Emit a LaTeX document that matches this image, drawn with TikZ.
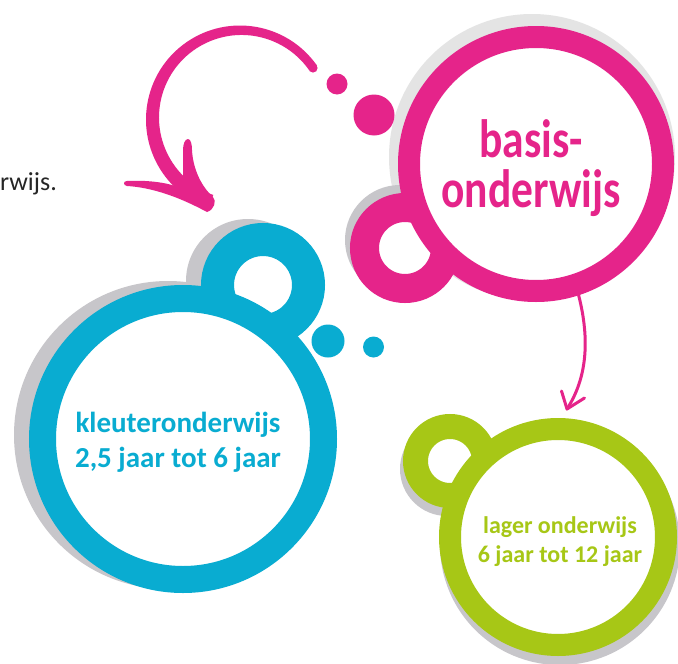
\documentclass[tikz,border=0pt]{standalone}
\usepackage{fontspec}
\setmainfont{Carlito}
\definecolor{pinkc}{HTML}{E5248A}
\definecolor{bluec}{HTML}{09ACD1}
\definecolor{greenc}{HTML}{A7C716}
\definecolor{shadowc}{HTML}{C7C6CA}
\definecolor{shadowl}{HTML}{E4E4E4}
\begin{document}
\begin{tikzpicture}[x=1pt,y=-1pt,
  ring/.style={circle, inner sep=0pt, fill=white},
  dot/.style={circle, inner sep=0pt},
  lbl/.style={inner sep=0pt, anchor=base}]
\useasboundingbox (0,0) rectangle (678,664);
\fill[white] (0,0) rectangle (678,664);

% ---- pink bubble ----
\fill[shadowl] (532,157) circle[radius=143];
\fill[shadowc] (400,240) circle[radius=55];
\node[ring, draw=pinkc, line width=29pt, minimum size=81pt] (basissmall) at (405,248) {};
\node[ring, draw=pinkc, line width=22pt, minimum size=254pt] (basis) at (536,164) {};
\node[dot, fill=pinkc, minimum size=21pt] (pd1) at (337,84) {};
\node[dot, fill=pinkc, minimum size=41pt] (pd2) at (374,115) {};

% ---- blue bubble ----
\fill[shadowc] (168,435) circle[radius=154];
\fill[shadowc] (248,281) circle[radius=62];
\node[ring, draw=bluec, line width=33pt, minimum size=91pt] (kleutersmall) at (263,285) {};
\node[ring, draw=bluec, line width=27pt, minimum size=281pt] (kleuter) at (183,439) {};
\node[dot, fill=bluec, minimum size=33pt] (bd1) at (328,341) {};
\node[dot, fill=bluec, minimum size=21pt] (bd2) at (373.5,347) {};

% ---- green bubble ----
\fill[shadowc] (560,545) circle[radius=120];
\fill[shadowc] (447,469) circle[radius=47];
\node[ring, draw=greenc, line width=25pt, minimum size=69pt] (lagersmall) at (450,461) {};
\node[ring, draw=greenc, line width=22pt, minimum size=216pt] (lager) at (558,537) {};

% ---- big curved arrow ----
\coordinate (arcstart) at (313,68);
\fill[pinkc] (317,65.6) arc[start angle=-35, end angle=-250, radius=94]
  -- (213.3,195) arc[start angle=-250, end angle=-35, radius=82.5] -- cycle;
\fill[pinkc] (arcstart) circle[radius=4.6];
\fill[pinkc] (183,177) -- (183,150) .. controls (183,144) and (185,139) .. (188,139)
  .. controls (191,139) and (192,145) .. (192,150)
  .. controls (193,170) and (202,187) .. (213,197)
  .. controls (217,201) and (214,210) .. (207,212)
  .. controls (190,203) and (160,188) .. (127,186)
  .. controls (123,185.5) and (123,181) .. (127,181)
  .. controls (145,180) and (165,182) .. (178,187) -- cycle;

% ---- thin arrow ----
\coordinate (tip2) at (567,409);
\draw[pinkc, line width=3pt, line cap=round] (basis.-72) .. controls (590,340) and (587,378) .. (tip2);
\draw[pinkc, line width=3pt, line cap=round, line join=round] (561.5,391) -- (tip2) -- (584.5,398);

% ---- texts ----
\node[lbl, text=pinkc, font=\bfseries\fontsize{54}{43}\selectfont] (basistext) at (531,157)
  {\scalebox{0.805}[1]{\begin{tabular}[t]{@{}c@{}}basis-\\onderwijs\end{tabular}}};
\node[lbl, text=bluec, font=\bfseries\fontsize{29}{35}\selectfont] (kleutertext) at (178,432)
  {\begin{tabular}[t]{@{}c@{}}kleuteronderwijs\\2,5 jaar tot 6 jaar\end{tabular}};
\node[lbl, text=greenc, font=\bfseries\fontsize{24}{29}\selectfont] (lagertext) at (560,533)
  {\begin{tabular}[t]{@{}c@{}}lager onderwijs\\6 jaar tot 12 jaar\end{tabular}};
\node[lbl, anchor=base west, text=black!85, font=\fontsize{26}{30}\selectfont] (cut) at (0,190) {rwijs.};
\end{tikzpicture}
\end{document}
